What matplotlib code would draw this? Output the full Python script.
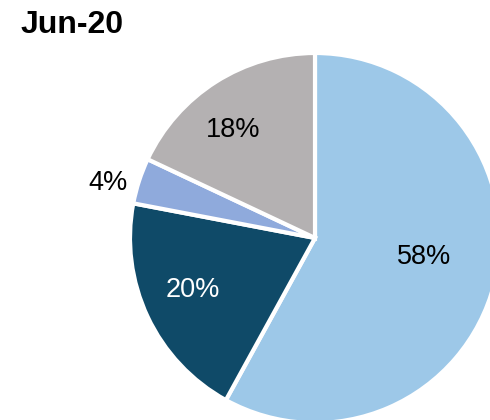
import matplotlib
matplotlib.use("Agg")
from matplotlib import pyplot as plt
import numpy as np

plt.rcParams['font.family'] = ['Liberation Sans', 'DejaVu Sans']

title = "Jun-20"
shares = [58, 20, 4, 18]
colors = ["#9DC8E8", "#0F4A68", "#8FAADC", "#B4B1B2"]
text_colors = ["black", "white", "black", "black"]
# label placement: fraction of radius and angle nudge (degrees) from wedge middle
label_r = [0.595, 0.713, 1.162, 0.746]
label_turn = [6.1, -3.4, 2.3, 4.0]

fig = plt.figure(figsize=(4.9, 4.2), dpi=100)
ax = fig.add_axes([0, 0, 1, 1])

wedges, texts, autotexts = ax.pie(
    shares, colors=colors, startangle=90, counterclock=False,
    autopct="%d%%", pctdistance=0.6,
    wedgeprops=dict(edgecolor="white", linewidth=3),
    textprops=dict(fontsize=19.5),
)

for w, t, r, d, c in zip(wedges, autotexts, label_r, label_turn, text_colors):
    mid = np.deg2rad((w.theta1 + w.theta2) / 2 + d)
    t.set_position((r * np.cos(mid), r * np.sin(mid)))
    t.set_va("center_baseline")
    t.set_color(c)

# pie runs off the right and bottom edges
ax.set_xlim(-315 / 185, 175 / 185)
ax.set_ylim(-182 / 185, 238 / 185)
ax.axis("off")

fig.text(21 / 490, 1 - 33 / 420, title, fontsize=23, fontweight="bold",
         va="baseline", ha="left")

fig.savefig("out.png", dpi=100)
